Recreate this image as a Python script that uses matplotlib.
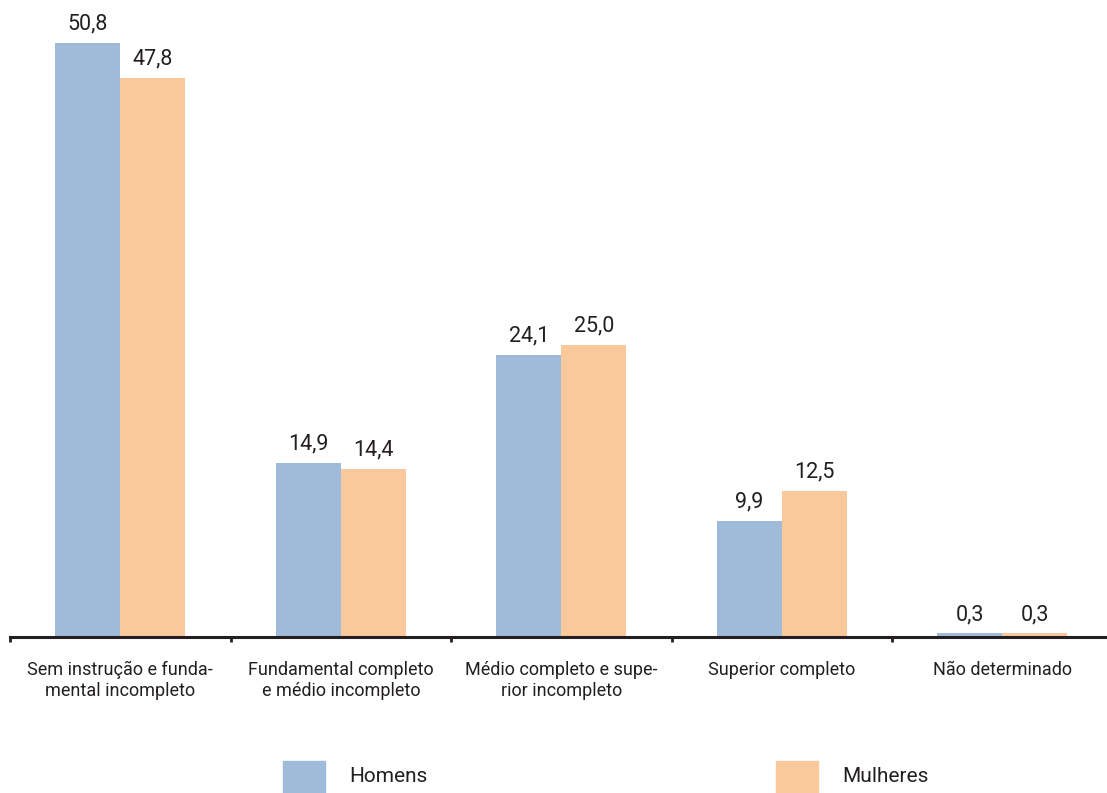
import matplotlib.pyplot as plt
import numpy as np
from matplotlib.patches import Rectangle

plt.rcParams['font.family'] = ['Roboto', 'DejaVu Sans']

categories = [
    "Sem instrução e funda-\nmental incompleto",
    "Fundamental completo\ne médio incompleto",
    "Médio completo e supe-\nrior incompleto",
    "Superior completo",
    "Não determinado",
]
homens = [50.8, 14.9, 24.1, 9.9, 0.3]
mulheres = [47.8, 14.4, 25.0, 12.5, 0.3]
series_names = ["Homens", "Mulheres"]

BLUE = "#a0bbda"
ORANGE = "#f9c89b"
INK = "#231f20"

W, H = 1107, 793
fig = plt.figure(figsize=(W / 100, H / 100), dpi=100)
ax = fig.add_axes([10 / W, (H - 637) / H, 1 - 10 / W, 637 / H])

x = np.arange(len(categories))
bw = 0.295
b1 = ax.bar(x - bw / 2, homens, bw, color=BLUE, zorder=2)
b2 = ax.bar(x + bw / 2, mulheres, bw, color=ORANGE, zorder=2)

def fmt(v):
    return f"{v:.1f}".replace(".", ",")

for bars, vals in ((b1, homens), (b2, mulheres)):
    for rect, v in zip(bars, vals):
        ax.annotate(fmt(v), (rect.get_x() + rect.get_width() / 2, v),
                    xytext=(0, 6), textcoords="offset points",
                    ha="center", va="bottom", fontsize=15.5, color=INK)

ax.set_xlim(-0.5, 4.475)
ax.set_ylim(0, 54.45)

for s in ("top", "right", "left"):
    ax.spines[s].set_visible(False)
ax.spines["bottom"].set_linewidth(2.2)
ax.spines["bottom"].set_color(INK)
ax.set_yticks([])

ax.set_xticks(x)
ax.set_xticklabels(categories, fontsize=13, color=INK, linespacing=1.25, va="top")
ax.tick_params(axis="x", which="major", length=0, pad=17)
ax.set_xticks(np.arange(-0.5, 4.0, 1.0), minor=True)
ax.tick_params(axis="x", which="minor", length=3.5, width=2, color=INK, direction="out")

# legend drawn by hand along the bottom edge
for left, color, name in ((283, BLUE, series_names[0]), (776, ORANGE, series_names[1])):
    fig.patches.append(Rectangle((left / W, 0), 42 / W, (H - 761) / H,
                                 transform=fig.transFigure, color=color, zorder=1))
    fig.text((left + 66) / W, (H - 776) / H, name, fontsize=15, color=INK,
             ha="left", va="center")

fig.savefig("out.png", dpi=100)
